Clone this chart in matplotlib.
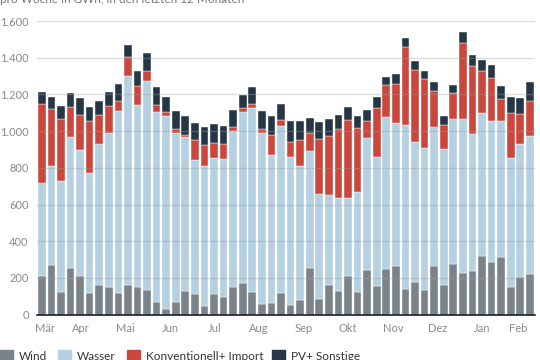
import numpy as np
import matplotlib
matplotlib.use("Agg")
import matplotlib.pyplot as plt
from matplotlib.patches import Rectangle
from matplotlib.ticker import FuncFormatter

# weekly values in GWh
wind = [210, 269, 121, 254, 210, 116, 160, 150, 116, 160, 150, 134, 70, 30, 70, 130,
        112, 49, 112, 96, 150, 174, 121, 58, 62, 116, 52, 81, 252, 87, 160, 130, 209,
        125, 243, 156, 248, 263, 140, 179, 134, 263, 160, 274, 228, 238, 318, 288, 312,
        152, 205, 220]
wasser = [509, 539, 607, 712, 687, 654, 770, 838, 995, 1142, 994, 1141, 1033, 1052, 921,
          836, 731, 763, 740, 750, 849, 932, 1005, 932, 810, 912, 809, 727, 638, 569, 490,
          506, 427, 545, 721, 705, 827, 779, 891, 760, 776, 759, 741, 790, 836, 748, 781,
          767, 743, 700, 726, 755]
konv = [429, 312, 336, 165, 192, 283, 158, 149, 55, 100, 100, 53, 38, 21, 19, 13, 109,
        112, 83, 85, 23, 20, 22, 20, 107, 33, 80, 142, 100, 303, 323, 374, 423, 347, 93,
        265, 175, 213, 429, 394, 374, 198, 132, 142, 418, 367, 227, 235, 118, 248, 162, 189]
pv = [63, 66, 71, 75, 91, 78, 78, 78, 89, 66, 84, 96, 101, 81, 101, 103, 91, 98, 102, 97,
      93, 72, 94, 101, 102, 85, 112, 103, 82, 89, 91, 78, 72, 65, 58, 58, 47, 54, 46, 49,
      44, 46, 51, 44, 58, 60, 62, 69, 73, 88, 89, 102]

months = ["Mär", "Apr", "Mai", "Jun", "Jul", "Aug", "Sep", "Okt", "Nov", "Dez", "Jan", "Feb"]
month_pos = [0.35, 4.1, 8.7, 13.4, 18.1, 22.7, 27.4, 32.0, 36.7, 41.4, 46.0, 49.8]

series = ["Wind", "Wasser", "Konventionell+ Import", "PV+ Sonstige"]
colors = ["#7a8389", "#b5d0e0", "#c9473d", "#253746"]

plt.rcParams['font.family'] = ['Lato', 'DejaVu Sans']
text_col = "#8a8a8a"

fig = plt.figure(figsize=(5.4, 3.6), dpi=100)
ax = fig.add_axes([37 / 540, 1 - 314.6 / 360, 497.6 / 540, (314.6 - 21) / 360])

x = np.arange(len(wind))
bottom = np.zeros(len(wind))
for vals, c in zip([wind, wasser, konv, pv], colors):
    ax.bar(x, vals, bottom=bottom, width=0.8, color=c, edgecolor="white",
           linewidth=0.3, zorder=2)
    bottom += np.array(vals)

ax.set_xlim(-0.5, len(wind) - 0.5)
ax.set_ylim(0, 1600)
ax.set_yticks(range(0, 1601, 200))
ax.yaxis.set_major_formatter(FuncFormatter(lambda v, p: f"{int(v):,}".replace(",", ".")))
ax.grid(axis="y", color="#a0a0a0", alpha=0.35, linewidth=1, zorder=3)
ax.set_axisbelow(False)

ax.set_xticks(month_pos)
ax.set_xticklabels(months)
ax.tick_params(axis="both", length=0, labelsize=8, labelcolor=text_col)
ax.tick_params(axis="y", pad=6)
ax.tick_params(axis="x", pad=6)
for s in ["top", "right", "left"]:
    ax.spines[s].set_visible(False)
ax.spines["bottom"].set_color("#1c1c2a")
ax.spines["bottom"].set_linewidth(1.2)
ax.spines["bottom"].set_zorder(4)

# subtitle, cut at the top edge like in the original
fig.text(0.0, 357 / 360, "pro Woche in GWh, in den letzten 12 Monaten",
         fontsize=8.5, color="#777777", va="baseline")

# legend along the bottom edge
leg_x = [0, 58, 127, 272]
for lx, name, c in zip(leg_x, series, colors):
    fig.patches.append(Rectangle((lx / 540, -3 / 360), 13 / 540, 13 / 360,
                                 transform=fig.transFigure, color=c))
    fig.text((lx + 19) / 540, 3 / 360, name, fontsize=8.5, color="#333333",
             va="center")

fig.savefig("out.png", dpi=100)
